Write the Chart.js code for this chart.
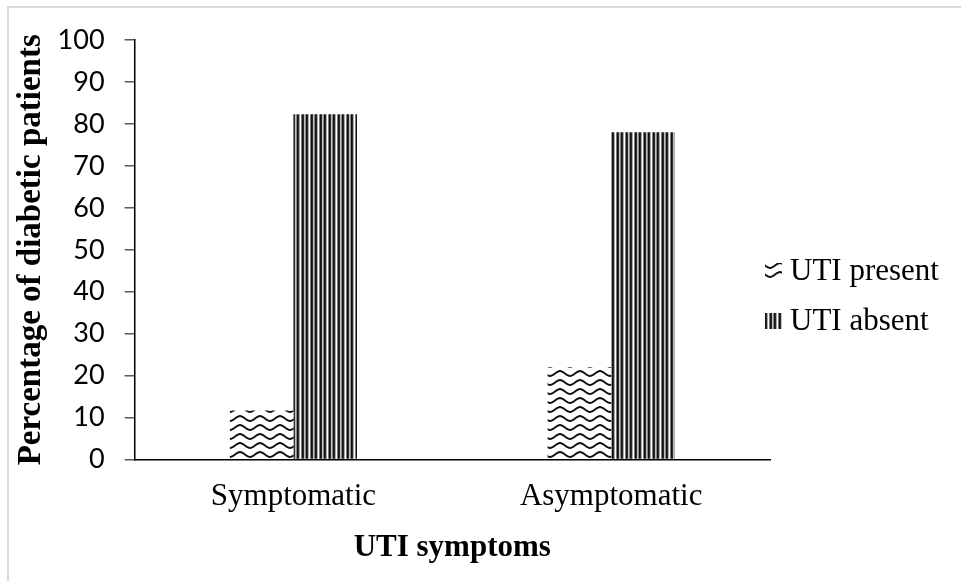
<!DOCTYPE html>
<html>
<head>
<meta charset="utf-8">
<script src="https://cdn.jsdelivr.net/npm/chart.js@4"></script>
<style>
  html, body { margin: 0; padding: 0; background: #fff; }
  #wrap { position: relative; width: 961px; height: 581px; overflow: hidden; }
  #frame { position: absolute; left: 7px; top: 6px; width: 1000px; height: 1000px;
           border-left: 2px solid #d9d9d9; border-top: 2px solid #d9d9d9; }
  canvas { position: absolute; left: 0; top: 0; }
</style>
</head>
<body>
<div id="wrap">
  <div id="frame"></div>
  <canvas id="chart" width="961" height="581"></canvas>
</div>
<script>
// ---------- data ----------
const categories = ['Symptomatic', 'Asymptomatic'];
const seriesNames = ['UTI present', 'UTI absent'];
const utiPresent = [11.7, 22.0];
const utiAbsent = [82.3, 78.0];
const yMin = 0, yMax = 100, yStep = 10;

const SERIF = '"Liberation Serif", "Times New Roman", serif';
const SANS = 'Lato, "Open Sans", sans-serif';

// ---------- fill patterns ----------
function wavePattern() {
  const c = document.createElement('canvas');
  c.width = 20; c.height = 9;
  const g = c.getContext('2d');
  g.fillStyle = '#fff';
  g.fillRect(0, 0, c.width, c.height);
  g.strokeStyle = '#111';
  g.lineWidth = 2;
  g.beginPath();
  for (let x = -1; x <= 21; x++) {
    const y = 4.5 - 2.4 * Math.cos(x / 20 * 2 * Math.PI);
    if (x === -1) g.moveTo(x, y); else g.lineTo(x, y);
  }
  g.stroke();
  return g.createPattern(c, 'repeat');
}

function stripePattern() {
  const cols = ['#111111', '#2a2a2a', '#a8a8a8', '#ffffff', '#7a7a7a', '#111111', '#2a2a2a', '#c0c0c0', '#8a8a8a'];
  const c = document.createElement('canvas');
  c.width = cols.length; c.height = 4;
  const g = c.getContext('2d');
  cols.forEach((col, i) => { g.fillStyle = col; g.fillRect(i, 0, 1, 4); });
  return g.createPattern(c, 'repeat');
}

// legend drawn beside the plot, Excel style
const sideLegend = {
  id: 'sideLegend',
  afterDraw(chart) {
    const ctx = chart.ctx;
    ctx.save();
    ctx.font = '31px ' + SERIF;
    ctx.textBaseline = 'middle';
    chart.data.datasets.forEach((ds, i) => {
      const y = 271 + i * 50;
      ctx.fillStyle = ds.backgroundColor;
      ctx.fillRect(765, y - 8, 17, 16);
      ctx.fillStyle = '#000';
      ctx.fillText(ds.label, 790, y + 1);
    });
    ctx.restore();
  }
};

new Chart(document.getElementById('chart'), {
  type: 'bar',
  data: {
    labels: categories,
    datasets: [
      { label: seriesNames[0], data: utiPresent, backgroundColor: wavePattern(), borderWidth: 0 },
      { label: seriesNames[1], data: utiAbsent, backgroundColor: stripePattern(), borderWidth: 0 },
    ]
  },
  plugins: [sideLegend],
  options: {
    responsive: false,
    animation: false,
    layout: { padding: { left: 8, top: 40, right: 191, bottom: 14 } },
    datasets: { bar: { categoryPercentage: 0.4, barPercentage: 1.0 } },
    plugins: {
      legend: { display: false },
      tooltip: { enabled: false },
    },
    scales: {
      x: {
        grid: { display: false, drawTicks: false },
        border: { display: true, color: '#000', width: 1.5 },
        ticks: { color: '#000', padding: 19, font: { family: SERIF, size: 31 } },
        title: {
          display: true, text: 'UTI symptoms', color: '#000',
          font: { family: SERIF, size: 31, weight: 'bold' },
          padding: { top: -5, bottom: 0 },
        },
      },
      y: {
        min: yMin, max: yMax,
        ticks: { stepSize: yStep, color: '#000', padding: 20, font: { family: SANS, size: 27 } },
        grid: { display: true, drawOnChartArea: false, drawTicks: true, tickLength: 10, color: '#595959', lineWidth: 1.5 },
        border: { display: true, color: '#000', width: 1.5 },
        title: {
          display: true, text: 'Percentage of diabetic patients', color: '#000',
          font: { family: SERIF, size: 33, weight: 'bold' },
          padding: { top: 4, bottom: -14 },
        },
      },
    },
  },
});
</script>
</body>
</html>
